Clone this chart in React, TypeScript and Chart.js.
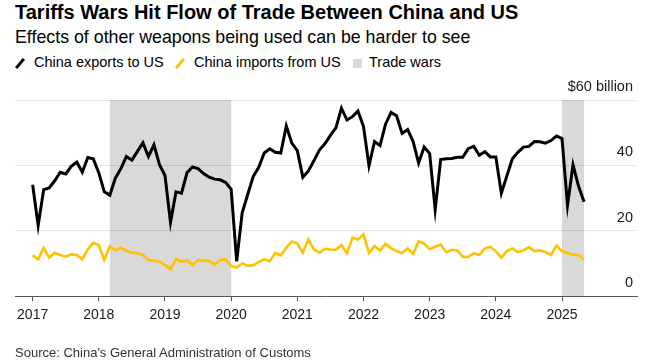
import React, { useEffect, useRef } from 'react';
import { Chart, registerables } from 'chart.js';

Chart.register(...registerables);

// Monthly series, index 0 = Jan 2017 ... index 100 = May 2025 (US$ billion)
const FIRST_MONTH = '2017-01';

const chinaExportsToUS = [
  34.1, 21.6, 32.6, 33.1, 35.3, 37.9, 37.4, 39.7, 41.0, 37.9, 42.4, 42.0,
  37.7, 31.9, 30.9, 36.1, 39.0, 42.7, 41.6, 44.3, 46.9, 42.7, 46.3, 40.2,
  36.9, 22.6, 31.9, 31.5, 37.8, 39.5, 39.0, 37.5, 36.4, 35.8, 35.6, 34.8,
  32.7, 10.7, 25.5, 31.1, 36.6, 39.4, 43.8, 45.1, 44.0, 43.8, 52.1, 46.8,
  44.5, 36.4, 38.3, 41.4, 44.7, 46.6, 49.2, 51.5, 57.5, 53.9, 54.9, 56.6,
  51.9, 39.9, 47.3, 46.1, 52.6, 56.2, 55.2, 49.8, 51.0, 47.3, 40.7, 45.6,
  43.6, 26.5, 41.8, 42.0, 42.1, 42.5, 42.5, 45.1, 45.8, 43.1, 44.2, 42.6,
  42.6, 31.5, 36.8, 42.0, 44.0, 45.6, 45.8, 47.3, 47.2, 46.8, 47.6, 49.0,
  48.2, 27.8, 40.2, 33.6, 28.9,
];

const chinaImportsFromUS = [
  12.5, 11.3, 14.8, 11.8, 13.3, 12.6, 12.1, 12.8, 12.6, 11.3, 14.3, 16.3,
  15.6, 11.1, 15.3, 14.1, 14.8, 13.9, 13.3, 13.2, 12.6, 11.1, 10.8, 10.6,
  9.5, 8.2, 11.3, 10.6, 11.0, 9.5, 11.1, 10.8, 10.8, 9.6, 11.1, 11.3,
  9.2, 8.8, 10.0, 9.3, 9.5, 10.4, 11.3, 10.7, 13.2, 12.5, 14.8, 16.7,
  16.1, 13.3, 17.4, 14.3, 13.3, 14.5, 14.3, 14.2, 15.6, 13.1, 17.9, 17.3,
  18.9, 13.2, 15.3, 14.0, 16.0, 14.7, 13.8, 13.2, 14.6, 12.9, 16.8, 16.1,
  14.4, 15.1, 15.8, 13.4, 14.2, 14.0, 12.1, 12.0, 13.1, 12.6, 14.6, 15.1,
  13.8, 11.8, 13.8, 14.6, 13.5, 14.0, 15.0, 13.8, 14.0, 13.5, 12.6, 15.5,
  13.8, 13.2, 12.7, 12.6, 11.1,
];

// x-axis ticks (month index of each January) and their labels
const yearTickMonths = [0, 12, 24, 36, 48, 60, 72, 84, 96];
const yearLabels = ['2017', '2018', '2019', '2020', '2021', '2022', '2023', '2024', '2025'];

// y-axis ticks
const yTickValues = [0, 20, 40, 60];
const yTickLabels = ['0', '20', '40', '$60 billion'];

// Trade war periods (month index): Mar 2018 - Jan 2020, Jan 2025 - May 2025
const tradeWarStarts = [14, 96];
const tradeWarEnds = [36, 100];

const FONT = '"Liberation Sans", Arial, Helvetica, sans-serif';

export default function App() {
  const ref = useRef<HTMLCanvasElement>(null);

  useEffect(() => {
    if (!ref.current) return;
    const shadePlugin = {
      id: 'tradeWarShade',
      beforeDraw(chart: any) {
        const { ctx, chartArea, scales } = chart;
        const xs = scales.x;
        ctx.save();
        ctx.fillStyle = '#d9d9d9';
        for (let k = 0; k < tradeWarStarts.length; k++) {
          const a = xs.getPixelForValue(tradeWarStarts[k]);
          const b = xs.getPixelForValue(tradeWarEnds[k]);
          ctx.fillRect(a, chartArea.top, b - a, chartArea.bottom - chartArea.top);
        }
        ctx.restore();
      },
    };

    const yLabelPlugin = {
      id: 'yInsideLabels',
      afterDraw(chart: any) {
        const { ctx, chartArea, scales } = chart;
        const ys = scales.y;
        ctx.save();
        ctx.font = `14.5px ${FONT}`;
        ctx.fillStyle = '#1a1a1a';
        ctx.textAlign = 'right';
        ctx.textBaseline = 'alphabetic';
        ys.ticks.forEach((t: any) => {
          const k = yTickValues.indexOf(Number(t.value));
          if (k < 0) return;
          const y = ys.getPixelForValue(t.value);
          ctx.fillText(yTickLabels[k], chartArea.right - 4, y - 9);
        });
        ctx.restore();
      },
    };

    const chart = new Chart(ref.current, {
      type: 'line',
      data: {
        datasets: [
          {
            label: 'China exports to US',
            data: chinaExportsToUS.map((v, i) => ({ x: i, y: v })),
            borderColor: '#000000',
            borderWidth: 3,
            pointRadius: 0,
            tension: 0,
            fill: false,
          },
          {
            label: 'China imports from US',
            data: chinaImportsFromUS.map((v, i) => ({ x: i, y: v })),
            borderColor: '#ffc100',
            borderWidth: 2.6,
            pointRadius: 0,
            tension: 0,
            fill: false,
          },
        ],
      },
      options: {
        animation: false,
        responsive: false,
        events: [],
        layout: { padding: { left: 15, top: 100, right: 11, bottom: 33 } },
        plugins: {
          legend: { display: false },
          tooltip: { enabled: false },
          title: { display: false },
        },
        scales: {
          x: {
            type: 'linear',
            min: -3.2,
            max: 109.6,
            afterBuildTicks: (s: any) => {
              s.ticks = yearTickMonths.map((v) => ({ value: v }));
            },
            ticks: {
              autoSkip: false,
              maxRotation: 0,
              padding: 6,
              color: '#1a1a1a',
              font: { family: FONT, size: 14 },
              callback: (v: any) => {
                const k = yearTickMonths.indexOf(Number(v));
                return k >= 0 ? yearLabels[k] : '';
              },
            },
            grid: {
              drawOnChartArea: false,
              drawTicks: true,
              tickLength: 5,
              color: '#555555',
              lineWidth: 1,
            },
            border: { display: true, color: '#555555', width: 1 },
          },
          y: {
            position: 'right',
            min: 0,
            max: 60,
            afterBuildTicks: (s: any) => {
              s.ticks = yTickValues.map((v) => ({ value: v }));
            },
            ticks: { display: false },
            grid: { drawTicks: false, color: 'rgba(0,0,0,0.1)', lineWidth: 1 },
            border: { display: false },
          },
        },
      } as any,
      plugins: [shadePlugin, yLabelPlugin],
    });
    return () => chart.destroy();
  }, []);

  const textBase: React.CSSProperties = {
    position: 'absolute',
    whiteSpace: 'nowrap',
    fontFamily: FONT,
    color: '#000',
  };

  return (
    <div
      style={{
        position: 'absolute',
        left: 0,
        top: 0,
        width: 648,
        height: 363,
        background: '#fff',
        overflow: 'hidden',
      }}
    >
      <div style={{ ...textBase, left: 15, top: 2, fontSize: 20, lineHeight: '20px', fontWeight: 700 }}>
        Tariffs Wars Hit Flow of Trade Between China and US
      </div>
      <div style={{ ...textBase, left: 15, top: 29.2, fontSize: 17.8, lineHeight: '17.8px' }}>
        Effects of other weapons being used can be harder to see
      </div>
      <div
        style={{
          position: 'absolute',
          left: 14,
          top: 62,
          width: 12,
          height: 3,
          background: '#000',
          transform: 'rotate(-50deg)',
        }}
      />
      <div style={{ ...textBase, left: 34, top: 55.4, fontSize: 14.5, lineHeight: '14.5px' }}>
        China exports to US
      </div>
      <div
        style={{
          position: 'absolute',
          left: 174,
          top: 62,
          width: 12,
          height: 3,
          background: '#ffc100',
          transform: 'rotate(-50deg)',
        }}
      />
      <div style={{ ...textBase, left: 194, top: 55.4, fontSize: 14.5, lineHeight: '14.5px' }}>
        China imports from US
      </div>
      <div
        style={{
          position: 'absolute',
          left: 353,
          top: 59,
          width: 9,
          height: 9,
          background: '#d9d9d9',
        }}
      />
      <div style={{ ...textBase, left: 369, top: 55.4, fontSize: 14.5, lineHeight: '14.5px' }}>
        Trade wars
      </div>
      <canvas
        ref={ref}
        width={648}
        height={363}
        style={{ position: 'absolute', left: 0, top: 0, width: 648, height: 363 }}
      />
      <div style={{ ...textBase, left: 15, top: 346, fontSize: 13, lineHeight: '13px', color: '#333' }}>
        Source: China's General Administration of Customs
      </div>
    </div>
  );
}
